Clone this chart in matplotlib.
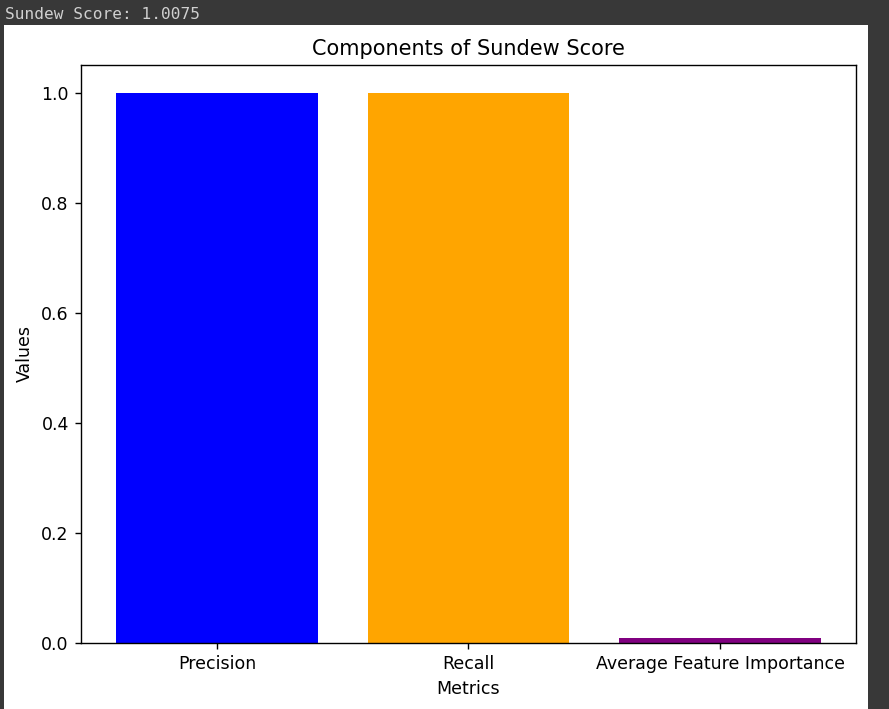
import matplotlib
matplotlib.use("Agg")
import matplotlib.pyplot as plt
from matplotlib.patches import Rectangle

# Werte aus dem Bild
metrics = ['Precision', 'Recall', 'Average Feature Importance']
values = [1.0, 1.0, 0.009]
colors = ['blue', 'orange', 'purple']
score_text = 'Sundew Score: 1.0075'

W, H = 889, 709
DPI = 125
fig = plt.figure(figsize=(W / DPI, H / DPI), dpi=DPI, facecolor='#383838')

# weisser Bereich der Notebook-Ausgabe
fig.patches.append(Rectangle((4 / W, 0), 864 / W, 684 / H, transform=fig.transFigure,
                             facecolor='white', edgecolor='none', zorder=-10))

fig.text(5 / W, 1 - 19 / H, score_text, family='DejaVu Sans Mono', fontsize=9.3,
         color='#d0d0d0', va='baseline', ha='left')

ax = fig.add_axes([81 / W, (H - 643) / H, 775 / W, 578 / H])
ax.bar(metrics, values, color=colors)
ax.set_title('Components of Sundew Score')
ax.set_xlabel('Metrics')
ax.set_ylabel('Values')

fig.savefig('out.png', dpi=DPI, facecolor=fig.get_facecolor())
